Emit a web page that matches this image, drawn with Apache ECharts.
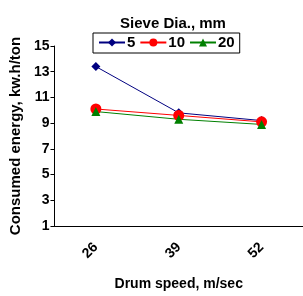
<!DOCTYPE html>
<html>
<head>
<meta charset="utf-8">
<script src="https://cdn.jsdelivr.net/npm/echarts@6/dist/echarts.min.js"></script>
<style>
  html, body { margin: 0; padding: 0; background: #fff; }
  #chart { width: 303px; height: 296px; }
</style>
</head>
<body>
<div id="chart"></div>
<script>
// drum speeds and consumed energy per sieve diameter
const speeds = ['26', '39', '52']
const sieve5 = [13.4, 9.8, 9.2]
const sieve10 = [10.1, 9.6, 9.1]
const sieve20 = [9.9, 9.3, 8.9]
const yTicks = [1, 3, 5, 7, 9, 11, 13, 15]

const font = 'Liberation Sans, Arial, sans-serif'

const chart = echarts.init(document.getElementById('chart'))
chart.setOption({
  animation: false,
  title: {
    text: 'Sieve Dia., mm',
    left: 168,
    textAlign: 'center',
    top: 11,
    textStyle: { fontFamily: font, fontSize: 15, fontWeight: 'bold', color: '#000' }
  },
  legend: {
    left: 93,
    top: 33,
    padding: [2, 5, 3, 5],
    itemGap: 4,
    itemWidth: 26,
    itemHeight: 10,
    borderColor: '#000',
    borderWidth: 1,
    textStyle: { fontFamily: font, fontSize: 15, fontWeight: 'bold', color: '#000', padding: [0, 0, 0, -3] },
    data: ['5', '10', '20']
  },
  grid: { left: 54, right: 0, top: 46, bottom: 64 },
  xAxis: {
    type: 'category',
    data: speeds,
    name: 'Drum speed, m/sec',
    nameLocation: 'middle',
    nameGap: 51,
    nameTextStyle: { fontFamily: font, fontSize: 14, fontWeight: 'bold', color: '#000' },
    axisLine: { lineStyle: { color: '#000' } },
    axisTick: { length: 4, lineStyle: { color: '#000' } },
    axisLabel: { rotate: 45, margin: 19, fontFamily: font, fontSize: 14, fontWeight: 'bold', color: '#000' }
  },
  yAxis: {
    type: 'value',
    min: yTicks[0],
    max: yTicks[yTicks.length - 1],
    interval: 2,
    name: 'Consumed energy, kw.h/ton',
    nameLocation: 'middle',
    nameGap: 27,
    nameTextStyle: { fontFamily: font, fontSize: 15, fontWeight: 'bold', color: '#000' },
    splitLine: { show: false },
    axisLine: { show: true, lineStyle: { color: '#000' } },
    axisTick: { show: true, length: 4, lineStyle: { color: '#000' } },
    axisLabel: { margin: 5, fontFamily: font, fontSize: 14, fontWeight: 'bold', color: '#000' }
  },
  series: [
    {
      name: '5', type: 'line', data: sieve5,
      symbol: 'diamond', symbolSize: 9,
      itemStyle: { color: '#000080' }, lineStyle: { width: 1, color: '#000080' }
    },
    {
      name: '10', type: 'line', data: sieve10,
      symbol: 'circle', symbolSize: 11,
      itemStyle: { color: '#FF0000' }, lineStyle: { width: 1, color: '#FF0000' }
    },
    {
      name: '20', type: 'line', data: sieve20,
      symbol: 'triangle', symbolSize: 9,
      itemStyle: { color: '#008000' }, lineStyle: { width: 1, color: '#008000' }
    }
  ]
})
</script>
</body>
</html>
